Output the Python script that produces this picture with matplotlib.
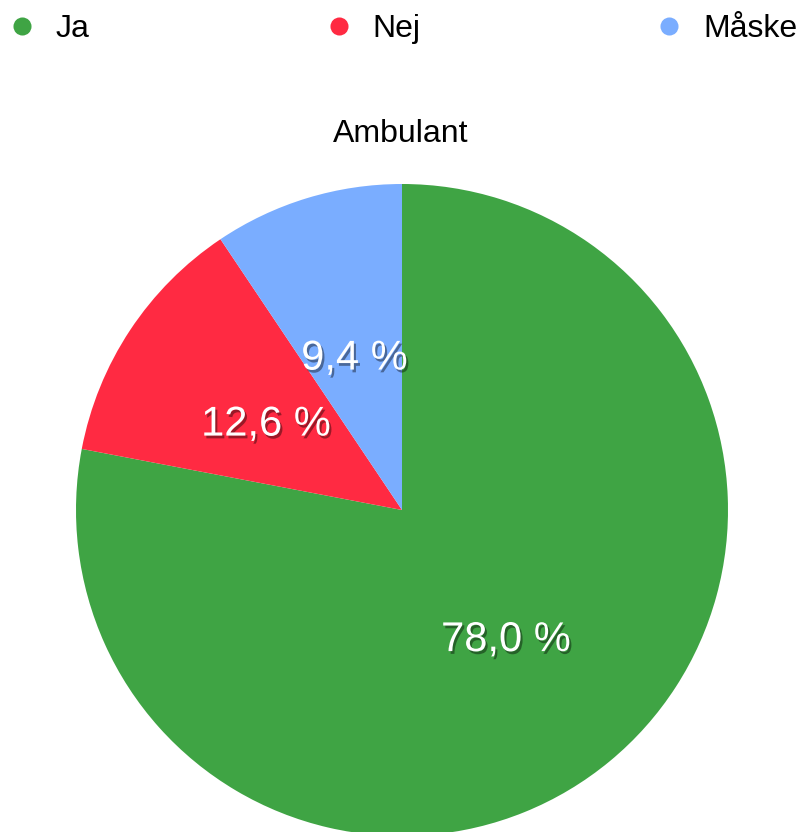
import matplotlib
matplotlib.use("Agg")
import matplotlib.pyplot as plt
import matplotlib.patheffects as pe
from matplotlib.lines import Line2D

plt.rcParams['font.family'] = ['Liberation Sans', 'DejaVu Sans']

title = "Ambulant"
labels = ["Ja", "Nej", "Måske"]
values = [78.0, 12.6, 9.4]
colors = ["#3fa444", "#ff2a42", "#7aadff"]

W, H = 799, 832
fig = plt.figure(figsize=(W / 100, H / 100), dpi=100)
ax = fig.add_axes([0, 0, 1, 1])

wedges, texts, autotexts = ax.pie(
    values, colors=colors, startangle=90, counterclock=False,
    center=(402, H - 510), radius=326,
    autopct=lambda p: f"{p:.1f} %".replace(".", ","),
    pctdistance=0.5, wedgeprops=dict(linewidth=0),
    textprops=dict(color="white", fontsize=30, va="center_baseline"))

shadow = [pe.SimplePatchShadow(offset=(1.5, -2), shadow_rgbFace="black", alpha=0.4),
          pe.Normal()]
for t in autotexts:
    t.set_path_effects(shadow)

ax.set_xlim(0, W)
ax.set_ylim(0, H)
ax.set_aspect("equal")
ax.axis("off")

ax.text(401, H - 130, title, ha="center", va="center_baseline", fontsize=23, color="black")

# legend across the top
handles = [Line2D([], [], linestyle="none", marker="o", markersize=13,
                  markerfacecolor=c, markeredgewidth=0) for c in colors]
fig.legend(handles, labels, loc="center", ncol=3, mode="expand",
           bbox_to_anchor=(14.5 / W, 1 - 29 / H, (797 - 14.5) / W, 0),
           frameon=False, fontsize=23, handlelength=0.5, handletextpad=0.8,
           borderpad=0, borderaxespad=0)

fig.savefig("out.png", dpi=100)
